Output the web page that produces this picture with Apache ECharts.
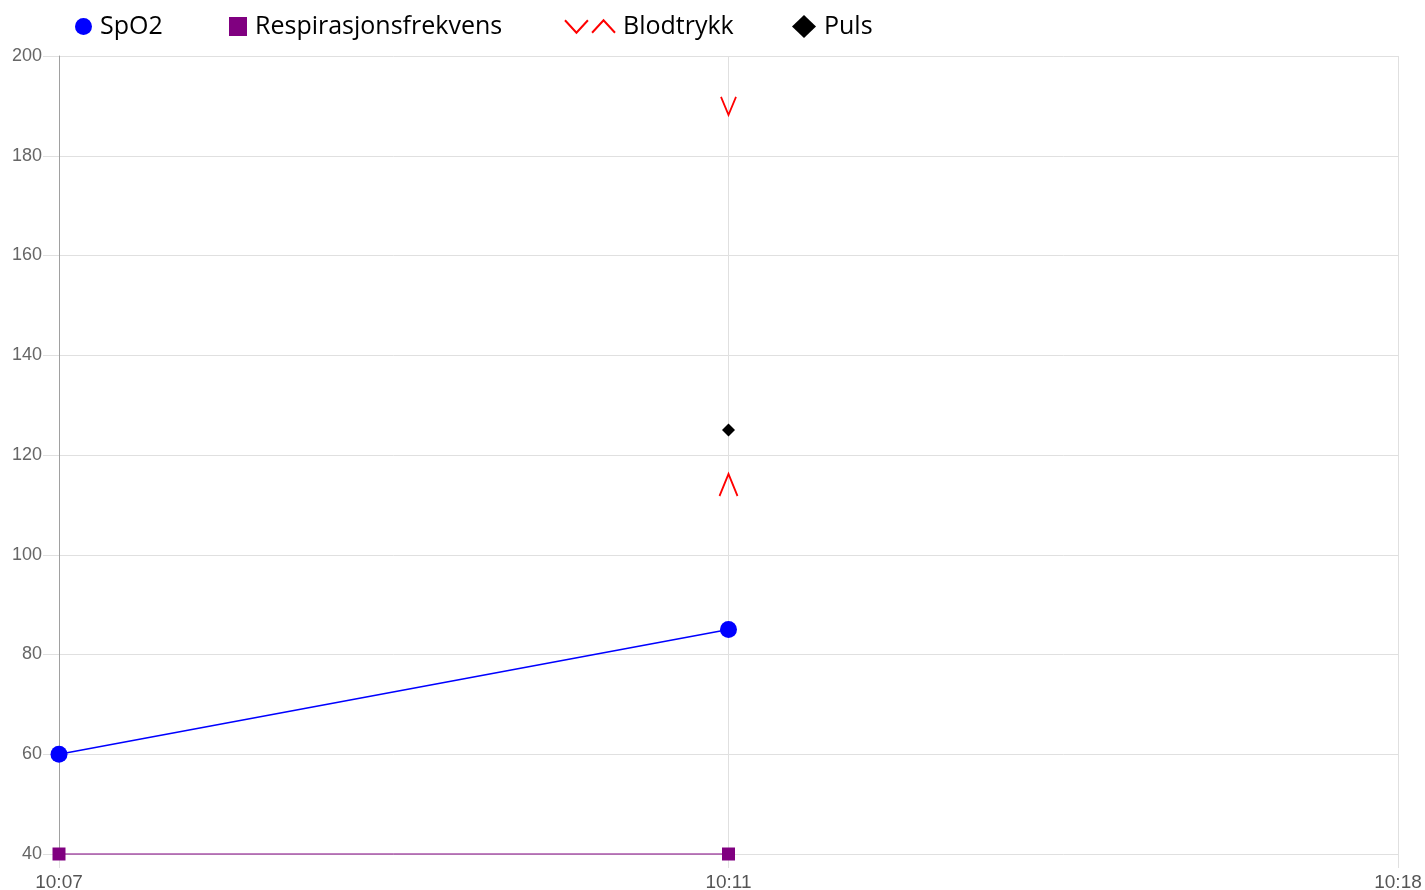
<!DOCTYPE html>
<html>
<head>
<meta charset="utf-8">
<script src="https://cdn.jsdelivr.net/npm/echarts@6/dist/echarts.min.js"></script>
<style>
html,body{margin:0;padding:0;background:#fff;}
#chart{width:1425px;height:890px;}
</style>
</head>
<body>
<div id="chart"></div>
<script>
const categories = ['10:07', '10:11', '10:18'];
const spo2 = [60, 85, null];
const respirasjon = [40, 40, null];
const systolisk = [null, 190, null];
const diastolisk = [null, 114, null];
const puls = [null, 125, null];
const yMin = 40, yMax = 200, yStep = 20;

const SYS_PATH = 'path://M0,0 L7,18 L14,0';
const DIA_PATH = 'path://M0,22 L9,0 L18,22';
const BP_ICON = 'path://M0,0 L11,12 L22,0 M26,12 L37,0 L48,12';

const bpStyle = {color: 'rgba(0,0,0,0)', borderColor: '#ff0000', borderWidth: 2, opacity: 1};
const bpData = [];
categories.forEach((c, i) => {
  if (systolisk[i] != null) bpData.push({value: [c, systolisk[i]], symbol: SYS_PATH, symbolSize: [15, 18], itemStyle: bpStyle});
  if (diastolisk[i] != null) bpData.push({value: [c, diastolisk[i]], symbol: DIA_PATH, symbolSize: [18, 22], itemStyle: bpStyle});
});

const legendText = {fontFamily: 'Open Sans', fontSize: 25, color: '#000', padding: [0, 0, 0, 3]};
function mkLegend(name, icon, left, top, w, h, extra) {
  return {
    left: left, top: top, itemWidth: w, itemHeight: h, padding: 0,
    selectedMode: false,
    data: [Object.assign({name: name, icon: icon}, extra || {})],
    textStyle: legendText
  };
}

const chart = echarts.init(document.getElementById('chart'), null, {renderer: 'canvas'});
chart.setOption({
  backgroundColor: '#fff',
  animation: false,
  legend: [
    mkLegend('SpO2', 'circle', 75, 14, 17, 17),
    mkLegend('Respirasjonsfrekvens', 'rect', 229, 14, 18, 19),
    mkLegend('Blodtrykk', BP_ICON, 564, 14, 50, 13, {itemStyle: {color: 'rgba(0,0,0,0)', borderColor: '#ff0000', borderWidth: 2}}),
    mkLegend('Puls', 'diamond', 792, 14, 24, 23, {itemStyle: {color: '#000', opacity: 1}})
  ],
  grid: {left: 59, right: 27, top: 56, bottom: 36, containLabel: false, outerBoundsMode: 'none'},
  xAxis: {
    type: 'category',
    data: categories,
    boundaryGap: false,
    axisLine: {show: false},
    axisTick: {show: true, length: 14, lineStyle: {color: '#e0e0e0'}},
    splitLine: {show: true, lineStyle: {color: '#e0e0e0', width: 1}},
    axisLabel: {fontFamily: 'Liberation Sans', fontSize: 19, color: '#555', margin: 19, showMinLabel: true, showMaxLabel: true, interval: 0}
  },
  yAxis: {
    type: 'value',
    min: yMin, max: yMax, interval: yStep,
    axisLine: {show: true, lineStyle: {color: '#a0a0a0', width: 1}},
    axisTick: {show: true, length: 16, lineStyle: {color: '#e0e0e0'}},
    splitLine: {show: true, lineStyle: {color: '#e0e0e0', width: 1}},
    axisLabel: {fontFamily: 'Liberation Sans', fontSize: 18, color: '#666', margin: 17}
  },
  series: [
    {
      name: 'SpO2', type: 'line', data: spo2,
      symbol: 'circle', symbolSize: 17, showSymbol: true, clip: false,
      itemStyle: {color: '#0000ff'},
      lineStyle: {color: '#0000ff', width: 1.6},
      z: 4
    },
    {
      name: 'Respirasjonsfrekvens', type: 'line', data: respirasjon,
      symbol: 'rect', symbolSize: 13, showSymbol: true, clip: false,
      itemStyle: {color: '#800080'},
      lineStyle: {color: '#800080', width: 1},
      z: 3
    },
    {
      name: 'Blodtrykk', type: 'scatter', data: bpData, clip: false,
      itemStyle: bpStyle,
      z: 5
    },
    {
      name: 'Puls', type: 'scatter', data: puls.map((v, i) => v == null ? null : [categories[i], v]).filter(d => d),
      symbol: 'diamond', symbolSize: 13, clip: false,
      itemStyle: {color: '#000000', opacity: 1},
      z: 5
    }
  ]
});
</script>
</body>
</html>
